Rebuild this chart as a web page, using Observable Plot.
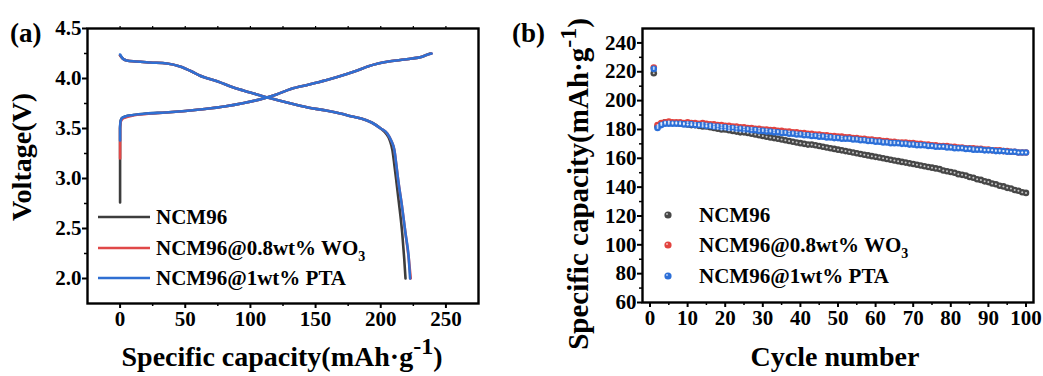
<!DOCTYPE html>
<html>
<head>
<meta charset="utf-8">
<script src="https://cdn.jsdelivr.net/npm/d3@7"></script>
<script src="https://cdn.jsdelivr.net/npm/@observablehq/plot@0.6"></script>
<style>
  html, body { margin: 0; padding: 0; background: #fff; }
  #wrap { position: relative; width: 1043px; height: 376px; overflow: hidden; font-family: "Liberation Serif", "Times New Roman", serif; }
  #left { position: absolute; left: 0; top: 0; }
  #right { position: absolute; left: 500px; top: 0; }
</style>
</head>
<body>
<div id="wrap"><div id="left"></div><div id="right"></div></div>
<script>
// ---------- Panel (a): voltage profiles ----------
const seriesNames = ["NCM96", "NCM96@0.8wt% WO3", "NCM96@1wt% PTA"];
const lineColors = ["#3d3d3d", "#e04848", "#2f6fd2"];

const ncmChargeCap = [0, 0, 0, 0.5, 1.5, 4, 10, 20, 35, 50, 65, 80, 95, 110, 120, 131, 145, 160, 174, 182, 190, 198, 206, 215, 224, 231, 235, 238];
const ncmChargeV   = [2.76, 3.2, 3.5, 3.58, 3.605, 3.62, 3.635, 3.65, 3.66, 3.675, 3.695, 3.72, 3.755, 3.80, 3.84, 3.895, 3.94, 3.99, 4.045, 4.08, 4.12, 4.15, 4.17, 4.185, 4.20, 4.215, 4.235, 4.25];
const wo3ChargeCap = [0, 0, 0.5, 1.5, 4, 10, 20, 35, 50, 65, 80, 95, 110, 120, 131, 145, 160, 174, 182, 190, 198, 206, 215, 224, 231, 235, 239];
const wo3ChargeV   = [3.2, 3.5, 3.565, 3.59, 3.61, 3.63, 3.645, 3.66, 3.675, 3.695, 3.72, 3.755, 3.80, 3.84, 3.895, 3.94, 3.99, 4.045, 4.08, 4.12, 4.15, 4.17, 4.185, 4.20, 4.215, 4.235, 4.25];
const ptaChargeCap = [0, 0, 0.5, 1.5, 4, 10, 20, 35, 50, 65, 80, 95, 110, 120, 131, 145, 160, 174, 182, 190, 198, 206, 215, 224, 231, 235, 239];
const ptaChargeV   = [3.38, 3.52, 3.58, 3.605, 3.62, 3.635, 3.65, 3.66, 3.675, 3.695, 3.72, 3.755, 3.80, 3.84, 3.895, 3.94, 3.99, 4.045, 4.08, 4.12, 4.15, 4.17, 4.185, 4.20, 4.215, 4.235, 4.25];

const ncmDisCap = [0, 2, 5, 12, 23, 36, 46, 55, 61, 75, 87, 100, 113, 128, 144, 158, 169, 178, 185, 193, 200, 204, 207, 209, 210.5, 212, 214, 216.5, 218, 219];
const ncmDisV   = [4.23, 4.2, 4.18, 4.17, 4.16, 4.15, 4.12, 4.07, 4.03, 3.97, 3.91, 3.86, 3.81, 3.76, 3.71, 3.68, 3.65, 3.62, 3.60, 3.56, 3.50, 3.45, 3.38, 3.28, 3.13, 2.97, 2.75, 2.45, 2.2, 2.0];
const wo3DisCap = [0, 2, 5, 12, 23, 36, 46, 55, 61, 75, 87, 100, 113, 128, 144, 158, 169, 178, 185, 193, 200, 205, 208, 210.5, 212, 213.5, 216, 219, 221.5, 223];
const wo3DisV   = [4.23, 4.2, 4.18, 4.17, 4.16, 4.15, 4.12, 4.07, 4.03, 3.97, 3.91, 3.86, 3.81, 3.76, 3.71, 3.68, 3.65, 3.62, 3.60, 3.56, 3.50, 3.45, 3.38, 3.28, 3.13, 2.97, 2.75, 2.45, 2.2, 2.0];
const ptaDisCap = [0, 2, 5, 12, 23, 36, 46, 55, 61, 75, 87, 100, 113, 128, 144, 158, 169, 178, 185, 193, 200, 205, 208, 210.5, 212, 213.5, 216, 219, 221.5, 222.5];
const ptaDisV   = [4.24, 4.2, 4.18, 4.17, 4.16, 4.15, 4.12, 4.07, 4.03, 3.97, 3.91, 3.86, 3.81, 3.76, 3.71, 3.68, 3.65, 3.62, 3.60, 3.56, 3.50, 3.45, 3.38, 3.28, 3.13, 2.97, 2.75, 2.45, 2.2, 2.0];

const capTicks = [0, 50, 100, 150, 200, 250];
const capMinor = [25, 75, 125, 175, 225];
const voltTicks = [2.0, 2.5, 3.0, 3.5, 4.0, 4.5];
const voltMinor = [2.25, 2.75, 3.25, 3.75, 4.25];

// ---------- Panel (b): cycling ----------
const cycles = d3.range(1, 101);
const ncmCycleCap = [219,
  182, 184, 185, 185, 184.5, 184.5, 184, 184, 183.5,
  183, 183, 182.5, 182, 182, 181.5, 181, 180.5, 180, 180,
  179.5, 179, 178.5, 178, 178, 177.5, 177, 176.5, 176, 175.5,
  175, 174.5, 174, 173.5, 173, 172.5, 172, 171.5, 171, 170.5,
  170, 169.5, 169.5, 169, 168.5, 168, 167.5, 167, 166.5, 166,
  165.5, 165, 164.5, 164, 163.5, 163, 162.5, 162, 161.5, 161,
  160.5, 160, 159.5, 159, 158.5, 158, 157.5, 157, 156.5, 156,
  155.5, 155, 154.5, 154, 153.5, 153, 152.5, 151.5, 151, 150.5,
  150, 149, 148.5, 148, 147, 146.5, 145.5, 145, 144, 143.5,
  142.5, 142, 141, 140.5, 139.5, 139, 138, 137.5, 136.5, 136];
const wo3CycleCap = [223,
  183, 184.5, 185, 185.5, 185, 185, 185, 184.5, 185,
  184.5, 184.5, 184, 184.5, 184, 183.5, 183.5, 183, 183, 182.5,
  182.5, 182, 182, 181.5, 181.5, 181, 181, 180.5, 180.5, 180,
  180, 179.5, 179.5, 179, 179, 178.5, 178.5, 178, 178, 177.5,
  177.5, 177, 177, 176.5, 176.5, 176, 176, 175.5, 175.5, 175,
  175, 174.5, 174.5, 174, 174, 173.5, 173.5, 173, 173, 172.5,
  172.5, 172, 172, 171.5, 171.5, 171, 171, 171, 170.5, 170.5,
  170, 170, 169.5, 169.5, 169, 169, 168.5, 168.5, 168.5, 168,
  168, 167.5, 167.5, 167, 167, 167, 166.5, 166.5, 166, 166,
  165.5, 165.5, 165.5, 165, 165, 164.5, 164.5, 164, 164, 164];
const ptaCycleCap = [222,
  181, 183, 184, 184, 184, 184, 184, 183.5, 183.5,
  183.5, 183, 183, 183, 182.5, 182.5, 182, 182, 181.5, 181.5,
  181, 181, 180.5, 180.5, 180, 180, 179.5, 179.5, 179, 179,
  178.5, 178.5, 178, 178, 177.5, 177.5, 177, 177, 176.5, 176.5,
  176, 176, 175.5, 175.5, 175, 175, 174.5, 174.5, 174, 174,
  173.5, 173.5, 173.5, 173, 173, 172.5, 172.5, 172, 172, 171.5,
  171.5, 171, 171, 170.5, 170.5, 170.5, 170, 170, 169.5, 169.5,
  169, 169, 169, 168.5, 168.5, 168, 168, 168, 167.5, 167.5,
  167, 167, 167, 166.5, 166.5, 166, 166, 166, 165.5, 165.5,
  165.5, 165, 165, 165, 164.5, 164.5, 164.5, 164, 164, 164];
const dotColors = ["#474747", "#e2433f", "#2c6fd8"];

const cycleTicks = [0, 10, 20, 30, 40, 50, 60, 70, 80, 90, 100];
const cycleMinor = [5, 15, 25, 35, 45, 55, 65, 75, 85, 95];
const capBTicks = [60, 80, 100, 120, 140, 160, 180, 200, 220, 240];
const capBMinor = [70, 90, 110, 130, 150, 170, 190, 210, 230];

// ---------- build tables ----------
function zip(xs, ys, s, part) { return xs.map((x, i) => ({x, y: ys[i], s, z: s + part})); }
const curves = [
  ...zip(ncmChargeCap, ncmChargeV, 0, "c"), ...zip(ncmDisCap, ncmDisV, 0, "d"),
  ...zip(wo3ChargeCap, wo3ChargeV, 1, "c"), ...zip(wo3DisCap, wo3DisV, 1, "d"),
  ...zip(ptaChargeCap, ptaChargeV, 2, "c"), ...zip(ptaDisCap, ptaDisV, 2, "d")
];
const cycData = [ncmCycleCap, wo3CycleCap, ptaCycleCap].flatMap((arr, s) => arr.map((v, i) => ({c: cycles[i], v, s})));

const font = "'Liberation Serif', 'Times New Roman', serif";
const baseStyle = {fontFamily: font, fontWeight: "bold", fontSize: "21px", color: "black", background: "transparent"};

// ---------- Plot (a) ----------
const plotA = Plot.plot({
  width: 500, height: 376,
  marginLeft: 87, marginRight: 22, marginTop: 28, marginBottom: 73,
  style: baseStyle,
  x: {domain: [-25, 275]},
  y: {domain: [1.75, 4.5]},
  marks: [
    Plot.line(curves, {x: "x", y: "y", z: "z", stroke: d => lineColors[d.s], strokeWidth: 2.6, curve: "monotone-x"}),
    Plot.axisX({ticks: capTicks, tickSize: 5, tickPadding: 3, label: null, tickFormat: d3.format("d"), fontSize: 21, strokeWidth: 2}),
    Plot.axisX({ticks: capMinor, tickSize: 3, label: null, tickFormat: () => "", strokeWidth: 1.5}),
    Plot.axisX({anchor: "top", ticks: capTicks.concat(capMinor), tickSize: 3, label: null, tickFormat: () => "", strokeWidth: 1.2}),
    Plot.axisY({ticks: voltTicks, tickSize: 5, tickPadding: 1, label: null, tickFormat: d3.format(".1f"), fontSize: 21, strokeWidth: 2}),
    Plot.axisY({ticks: voltMinor, tickSize: 3, label: null, tickFormat: () => "", strokeWidth: 1.5}),
    Plot.frame({stroke: "black", strokeWidth: 2.4})
  ]
});
document.getElementById("left").appendChild(plotA);

// ---------- Plot (b) ----------
const plotB = Plot.plot({
  width: 543, height: 376,
  marginLeft: 142, marginRight: 10, marginTop: 28, marginBottom: 74,
  style: baseStyle,
  x: {domain: [-2, 102]},
  y: {domain: [60, 250]},
  marks: [
    Plot.dot(cycData, {x: "c", y: "v", r: 3.3, fill: d => dotColors[d.s], stroke: "none"}),
    Plot.dot(cycData, {x: "c", y: "v", r: 1, fill: "white", fillOpacity: 0.7, stroke: "none"}),
    Plot.axisX({ticks: cycleTicks, tickSize: 5, tickPadding: 3, label: null, tickFormat: d3.format("d"), fontSize: 21, strokeWidth: 2}),
    Plot.axisX({ticks: cycleMinor, tickSize: 3, label: null, tickFormat: () => "", strokeWidth: 1.5}),
    Plot.axisY({ticks: capBTicks, tickSize: 5, tickPadding: 1, label: null, tickFormat: d3.format("d"), fontSize: 21, strokeWidth: 2}),
    Plot.axisY({ticks: capBMinor, tickSize: 3, label: null, tickFormat: () => "", strokeWidth: 1.5}),
    Plot.frame({stroke: "black", strokeWidth: 2.4})
  ]
});
document.getElementById("right").appendChild(plotB);

// ---------- titles, panel letters, legends ----------
function addText(svg, x, y, parts, opts = {}) {
  const t = svg.append("text")
    .attr("x", x).attr("y", y)
    .attr("font-family", font).attr("font-weight", "bold")
    .attr("font-size", opts.size || 21)
    .attr("text-anchor", opts.anchor || "start")
    .attr("fill", "black");
  if (opts.rotate) t.attr("transform", `rotate(-90 ${x} ${y})`);
  for (const p of parts) {
    const ts = t.append("tspan").text(p.t);
    if (p.sup) ts.attr("dy", -(opts.supShift || 9)).attr("font-size", opts.supSize || 17);
    if (p.sub) ts.attr("dy", 6).attr("font-size", 14);
    if (p.reset) ts.attr("dy", p.reset);
  }
  return t;
}
const svgA = d3.select(plotA);
const svgB = d3.select(plotB);

addText(svgA, 10, 42, [{t: "(a)"}], {size: 27});
addText(svgA, 31, 157, [{t: "Voltage(V)"}], {size: 28, anchor: "middle", rotate: true});
addText(svgA, 282, 366, [{t: "Specific capacity(mAh·g"}, {t: "-1", sup: true}, {t: ")", reset: 12}], {size: 28, anchor: "middle", supSize: 24, supShift: 12});

addText(svgB, 12, 42, [{t: "(b)"}], {size: 27});
addText(svgB, 88, 184, [{t: "Specific capacity(mAh·g"}, {t: "-1", sup: true}, {t: ")", reset: 12}], {size: 29, anchor: "middle", rotate: true, supSize: 24, supShift: 12});
addText(svgB, 335, 366, [{t: "Cycle number"}], {size: 28, anchor: "middle"});

// legend (a)
const legRowsA = [217, 248, 278];
seriesNames.forEach((name, i) => {
  svgA.append("line").attr("x1", 98).attr("x2", 150).attr("y1", legRowsA[i]).attr("y2", legRowsA[i])
    .attr("stroke", lineColors[i]).attr("stroke-width", 2.6);
  const parts = i === 1 ? [{t: "NCM96@0.8wt% WO"}, {t: "3", sub: true}] : [{t: name}];
  addText(svgA, 156, legRowsA[i] + 7, parts, {size: 21});
});
// legend (b)
const legRowsB = [215, 245, 276];
seriesNames.forEach((name, i) => {
  svgB.append("circle").attr("cx", 168).attr("cy", legRowsB[i]).attr("r", 3.6).attr("fill", dotColors[i]);
  svgB.append("circle").attr("cx", 167).attr("cy", legRowsB[i] - 1).attr("r", 1.1).attr("fill", "white").attr("fill-opacity", 0.6);
  const parts = i === 1 ? [{t: "NCM96@0.8wt% WO"}, {t: "3", sub: true}] : [{t: name}];
  addText(svgB, 199, legRowsB[i] + 7, parts, {size: 21});
});
</script>
</body>
</html>
